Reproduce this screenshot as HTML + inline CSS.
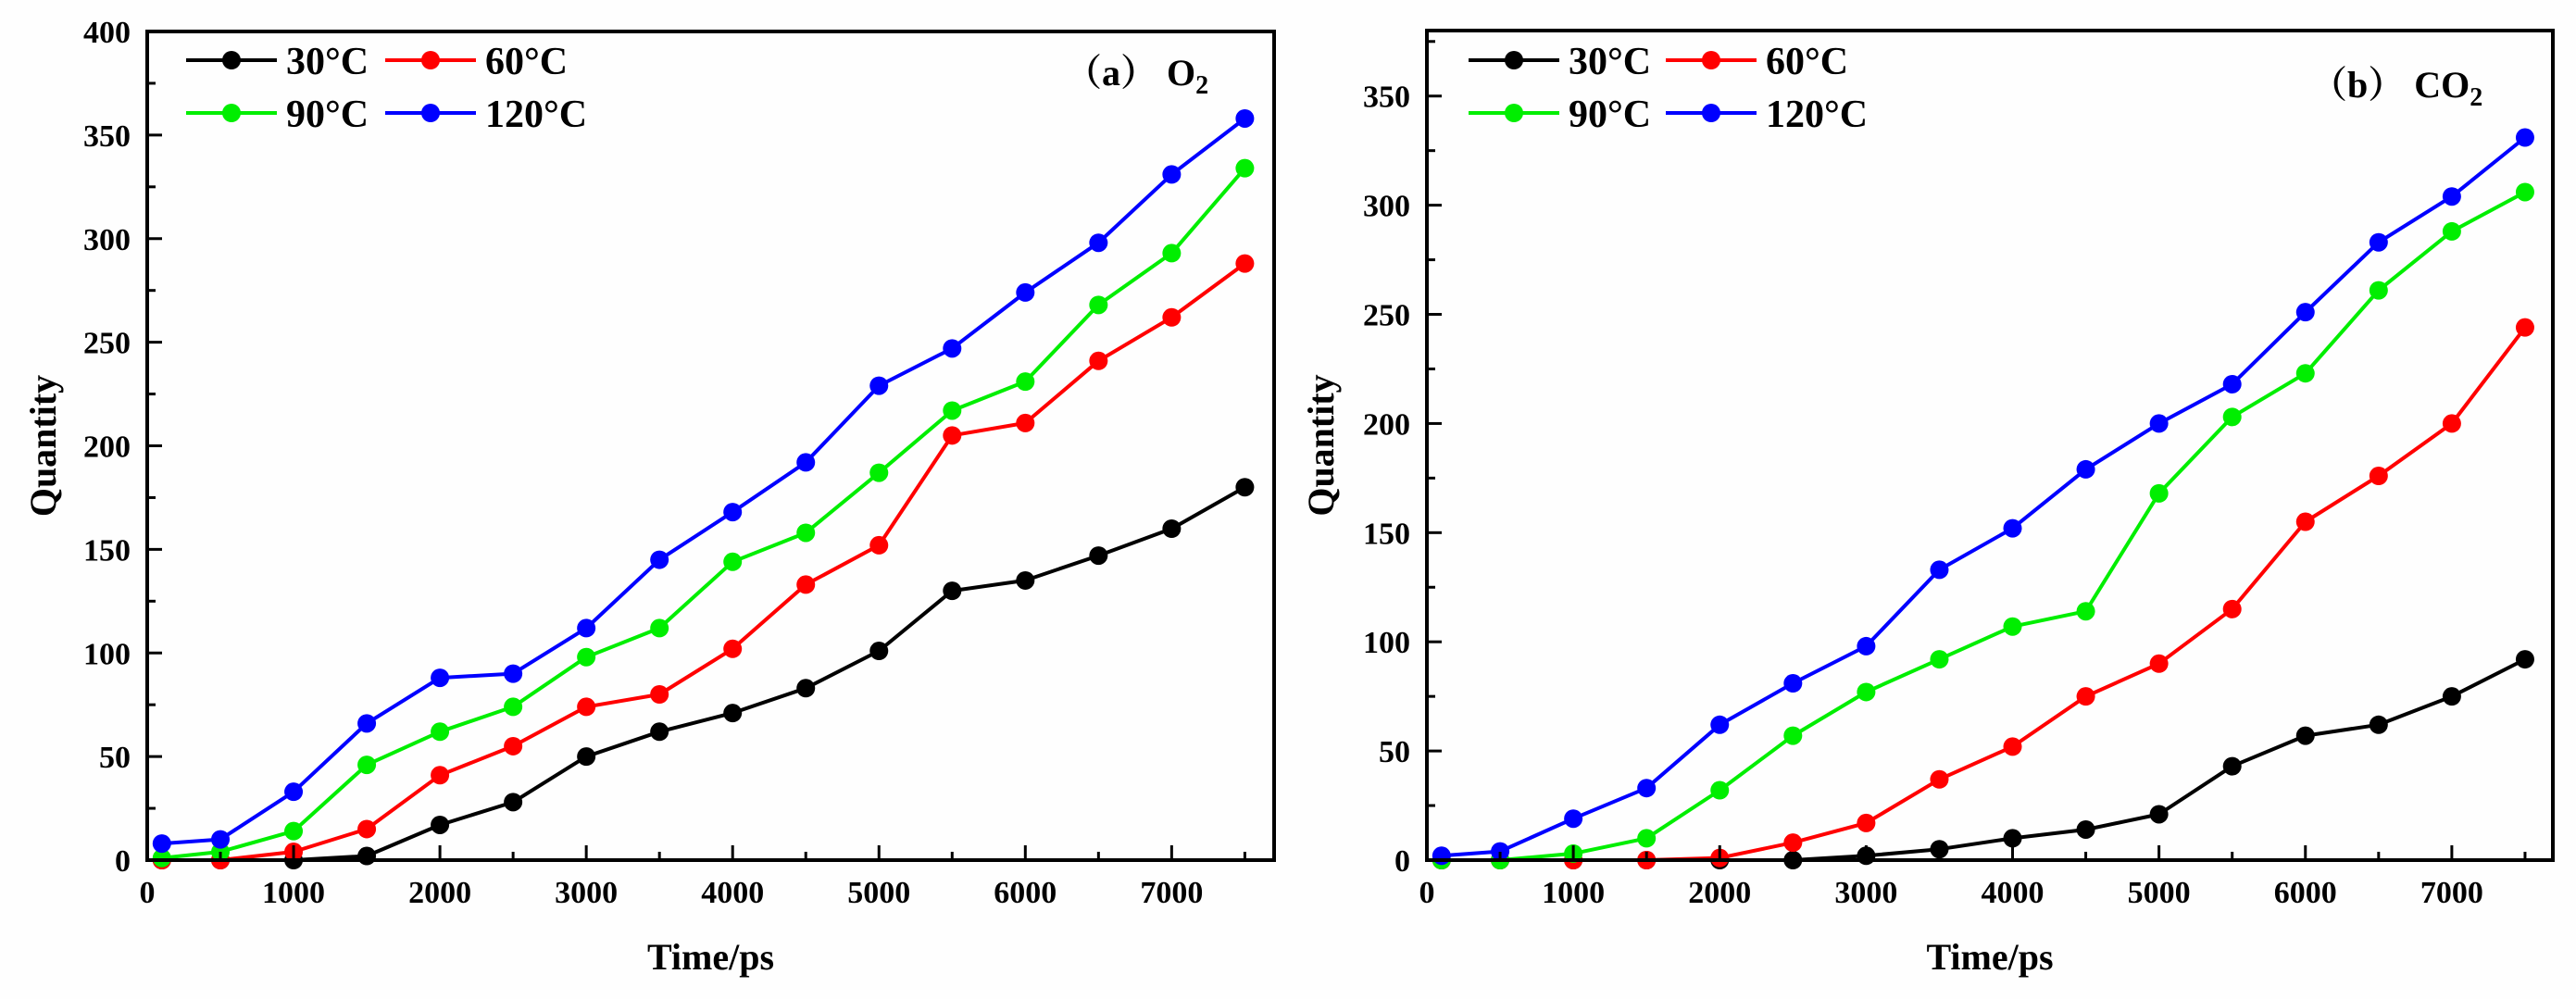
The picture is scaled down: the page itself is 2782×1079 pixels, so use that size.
<!DOCTYPE html>
<html><head><meta charset="utf-8"><style>
html,body{margin:0;padding:0;background:#fff;}
svg{display:block;}
text{font-family:"Liberation Serif","Noto Serif CJK SC",serif;font-weight:bold;fill:#000;}
</style></head><body>
<svg id="chart" width="2782" height="1079" viewBox="0 0 2782 1079" xmlns="http://www.w3.org/2000/svg">
<rect width="2782" height="1079" fill="#fefefe"/>
</svg>
<script>
const xVals = [100,500,1000,1500,2000,2500,3000,3500,4000,4500,5000,5500,6000,6500,7000,7500];
const seriesNames = ["30°C","60°C","90°C","120°C"];
const seriesColors = ["#000000","#ff0000","#00ee00","#0000ff"];
const o2_30 = [0,0,0,2,17,28,50,62,71,83,101,130,135,147,160,180];
const o2_60 = [0,0,4,15,41,55,74,80,102,133,152,205,211,241,262,288];
const o2_90 = [1,4,14,46,62,74,98,112,144,158,187,217,231,268,293,334];
const o2_120 = [8,10,33,66,88,90,112,145,168,192,229,247,274,298,331,358];
const co2_30 = [0,0,0,0,0,0,2,5,10,14,21,43,57,62,75,92];
const co2_60 = [0,0,0,0,1,8,17,37,52,75,90,115,155,176,200,244];
const co2_90 = [0,0,3,10,32,57,77,92,107,114,168,203,223,261,288,306];
const co2_120 = [2,4,19,33,62,81,98,133,152,179,200,218,251,283,304,331];
const xTicks = [0,1000,2000,3000,4000,5000,6000,7000];
const yTicksA = [0,50,100,150,200,250,300,350,400];
const yTicksB = [0,50,100,150,200,250,300,350];

const NS="http://www.w3.org/2000/svg";
const svg=document.getElementById('chart');
function mk(tag,attrs,parent){const e=document.createElementNS(NS,tag);for(const k in attrs)e.setAttribute(k,attrs[k]);(parent||svg).appendChild(e);return e;}

function panel(cfg){
  const g=mk('g',{});
  
  
  const X=v=>cfg.x0+(v-0)/(cfg.xmax)*(cfg.x1-cfg.x0);
  const Y=v=>cfg.y0-(v)/(cfg.ymax)*(cfg.y0-cfg.y1);
  cfg.series.forEach((vals,si)=>{
    const sg=mk('g',{},g);
    
    
    const pts=vals.map((v,i)=>X(xVals[i]).toFixed(1)+','+Y(v).toFixed(1)).join(' ');
    const pl=mk('polyline',{points:pts,fill:'none',stroke:seriesColors[si],'stroke-width':4,'stroke-linejoin':'round'},sg);
    
    
    vals.forEach((v,i)=>{
      const c=mk('circle',{cx:X(xVals[i]),cy:Y(v),r:10,fill:seriesColors[si]},sg);
      
      
    });
  });
  const fr=mk('rect',{x:cfg.x0,y:cfg.y1,width:cfg.x1-cfg.x0,height:cfg.y0-cfg.y1,fill:'none',stroke:'#000','stroke-width':4},g);
  
  
  for(let v=0;v<=cfg.xmax;v+=500){
    const major=v%1000===0;
    mk('line',{x1:X(v),x2:X(v),y1:cfg.y0,y2:cfg.y0-(major?16:9),stroke:'#000','stroke-width':3},g);
  }
  xTicks.forEach(v=>{
    const t=mk('text',{x:X(v),y:cfg.y0+46,'text-anchor':'middle','font-size':34},g);
    t.textContent=v;
    
    
  });
  for(let v=0;v<=cfg.ymax;v+=25){
    const major=v%50===0;
    mk('line',{x1:cfg.x0,x2:cfg.x0+(major?16:9),y1:Y(v),y2:Y(v),stroke:'#000','stroke-width':3},g);
  }
  cfg.yTicks.forEach(v=>{
    const t=mk('text',{x:cfg.x0-18,y:Y(v)+12,'text-anchor':'end','font-size':34},g);
    t.textContent=v;
    
    
  });
  const xt=mk('text',{x:(cfg.x0+cfg.x1)/2,y:1047,'text-anchor':'middle','font-size':40},g);
  xt.textContent='Time/ps';
  
  
  const yt=mk('text',{x:0,y:0,'text-anchor':'middle','font-size':40,transform:`translate(${cfg.ylabX},${(cfg.y0+cfg.y1)/2}) rotate(-90)`},g);
  yt.textContent='Quantity';
  
  
  const lg=mk('g',{},g);
  
  
  seriesNames.forEach((n,i)=>{
    const col=i%2,row=Math.floor(i/2);
    const lx=cfg.legX[col], ly=[65,122][row];
    const e=mk('g',{},lg);
    
    
    mk('line',{x1:lx,x2:lx+98,y1:ly,y2:ly,stroke:seriesColors[i],'stroke-width':4},e);
    mk('circle',{cx:lx+49,cy:ly,r:10,fill:seriesColors[i]},e);
    const t=mk('text',{x:lx+108,y:ly+15,'font-size':42},e);
    t.textContent=n;
  });
  const pl=mk('text',{x:cfg.labX,y:cfg.labY,'font-size':40,'font-weight':cfg.labW},g);
  
  
  pl.innerHTML=cfg.lab;
}
panel({name:'panel-a-o2',x0:159,x1:1376,y0:929,y1:34,xmax:7700,ymax:400,yTicks:yTicksA,
  series:[o2_30,o2_60,o2_90,o2_120],ylabX:60,legX:[201,416],labX:1150,labY:92,labW:'bold',
  lab:'（a） O<tspan font-size="28" dy="9">2</tspan>'});
panel({name:'panel-b-co2',x0:1541,x1:2757,y0:929,y1:33,xmax:7690,ymax:380,yTicks:yTicksB,
  series:[co2_30,co2_60,co2_90,co2_120],ylabX:1440,legX:[1586,1799],labX:2495,labY:105,labW:'normal',
  lab:'（b） CO<tspan font-size="28" dy="9">2</tspan>'});
</script>
</body></html>
